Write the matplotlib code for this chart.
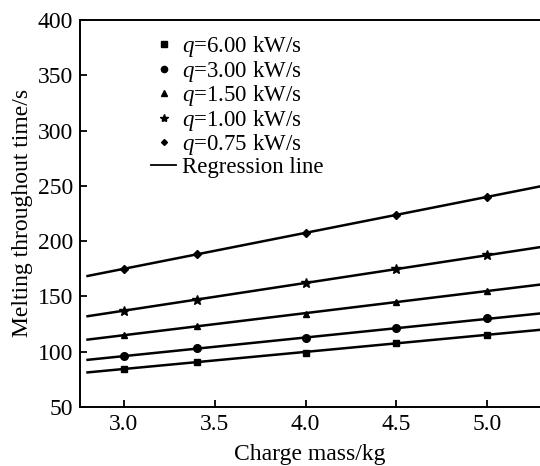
import numpy as np
import matplotlib
matplotlib.use('Agg')
import matplotlib.pyplot as plt
from matplotlib.lines import Line2D

plt.rcParams['font.family'] = 'serif'
plt.rcParams['font.serif'] = ['Liberation Serif', 'DejaVu Serif']
plt.rcParams['mathtext.fontset'] = 'custom'
plt.rcParams['mathtext.it'] = 'Liberation Serif:italic'
plt.rcParams['mathtext.rm'] = 'Liberation Serif'

charge_mass = [3.0, 3.4, 4.0, 4.5, 5.0]
q_labels = ['6.00', '3.00', '1.50', '1.00', '0.75']
markers = ['s', 'o', '^', '*', 'D']
t_q600 = [84, 91, 99, 108, 115]
t_q300 = [96, 103, 112, 121, 130]
t_q150 = [115, 123, 134, 145, 155]
t_q100 = [137, 147, 162, 175, 187]
t_q075 = [175, 188, 207, 224, 240]
series = [t_q600, t_q300, t_q150, t_q100, t_q075]

fig = plt.figure(figsize=(5.4, 4.66), dpi=100)
ax = fig.add_axes([0.148, 0.127, 0.852, 0.830])

xfit = np.array([2.8, 5.3])
handles = []
for vals, mk, ql in zip(series, markers, q_labels):
    ms = {'s': 5, 'o': 5.5, '^': 5, '*': 7, 'D': 4}[mk]
    ax.plot(charge_mass, vals, linestyle='none', marker=mk, color='black', markersize=ms, zorder=3)
    k, b = np.polyfit(charge_mass, vals, 1)
    ax.plot(xfit, k * xfit + b, color='black', linewidth=1.8, zorder=2)
    handles.append(Line2D([], [], linestyle='none', marker=mk, color='black', markersize=ms - 1,
                          label='$q$=' + ql + ' kW/s'))
handles.append(Line2D([], [], color='black', linewidth=1.3, label='Regression line'))

ax.set_xlim(2.758, 5.29)
ax.set_ylim(50, 400)
ax.set_xticks([3.0, 3.5, 4.0, 4.5, 5.0])
ax.set_xticklabels(['3.0', '3.5', '4.0', '4.5', '5.0'])
ax.set_yticks([50, 100, 150, 200, 250, 300, 350, 400])
ax.tick_params(direction='in', labelsize=17, length=5, width=1.3, pad=5)
ax.spines['right'].set_visible(False)
for s in ['left', 'bottom', 'top']:
    ax.spines[s].set_linewidth(1.4)

ax.set_xlabel('Charge mass/kg', fontsize=17, labelpad=7)
ax.set_ylabel('Melting throughout time/s', fontsize=17, labelpad=3)

ax.legend(handles=handles, loc='upper left', bbox_to_anchor=(0.12, 1.005), frameon=False,
          fontsize=16.5, handlelength=1.1, handletextpad=0.25, labelspacing=-0.02, borderpad=0.2)

fig.savefig('out.png', dpi=100)
